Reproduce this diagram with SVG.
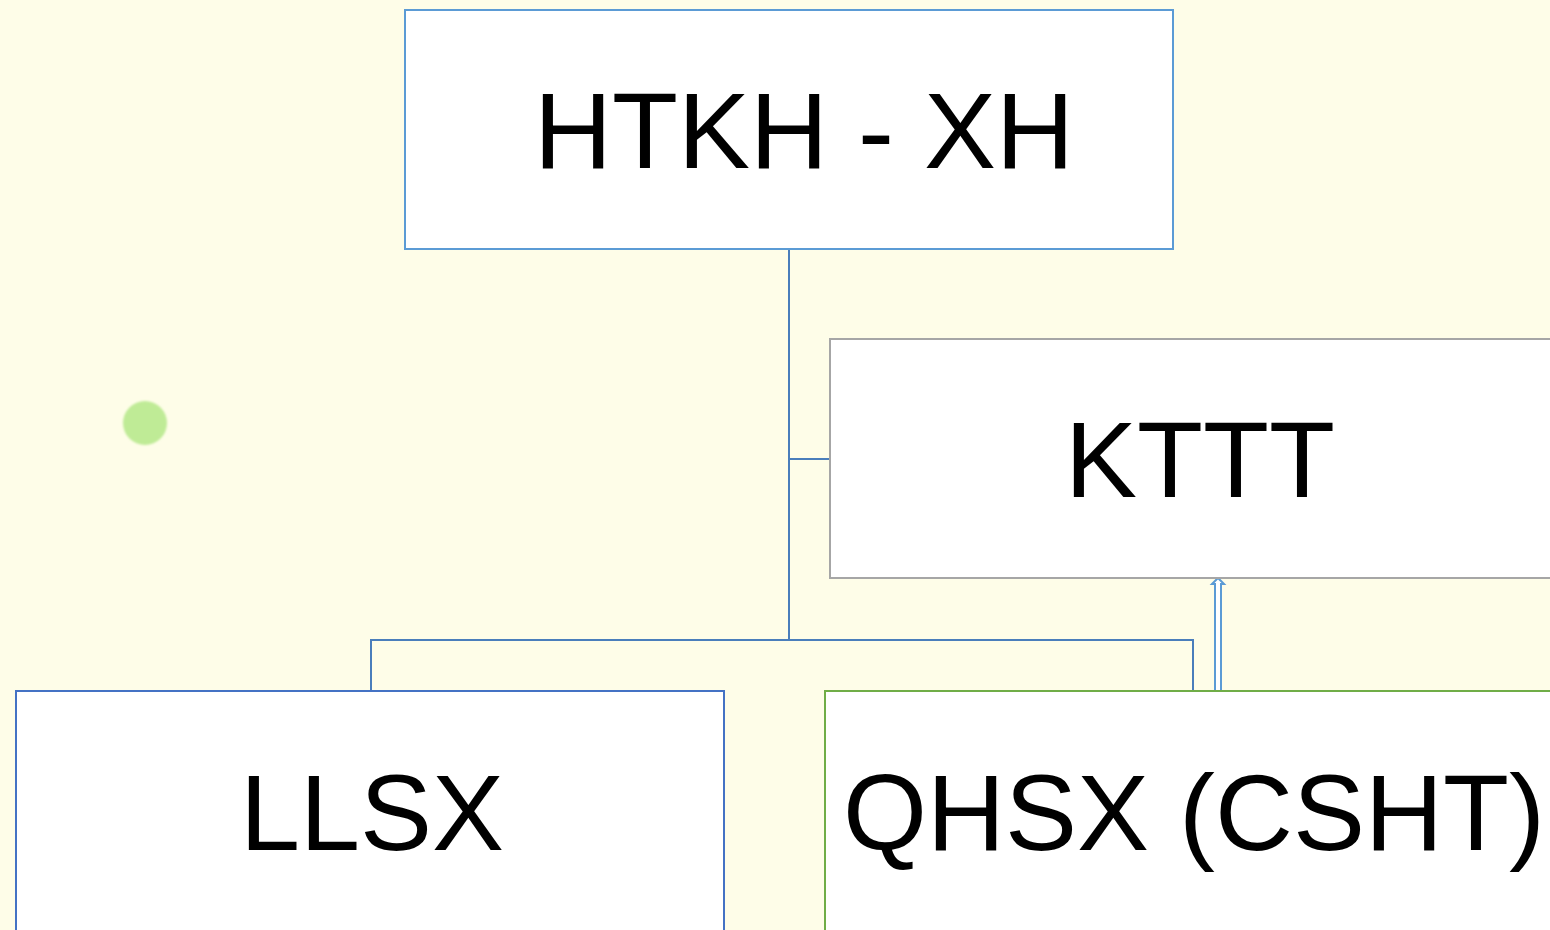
<svg xmlns="http://www.w3.org/2000/svg" width="1550" height="930" viewBox="0 0 1550 930">
<style>
.box{fill:#FFFFFF;stroke-width:2}
.t{font-family:"Liberation Sans",Arial,sans-serif;font-size:108px;fill:#000000;text-anchor:middle}
.c{fill:none;stroke:#4A7EBB;stroke-width:2}
</style>
<defs>
<filter id="blur" x="-50%" y="-50%" width="200%" height="200%"><feGaussianBlur stdDeviation="1"/></filter>
</defs>
<rect width="1550" height="930" fill="#FEFDE8"/>
<circle cx="145" cy="423" r="22" fill="#BFEB96" filter="url(#blur)"/>
<g id="connectors">
<polyline class="c" points="789,249 789,640"/>
<polyline class="c" points="789,459 830,459"/>
<polyline class="c" points="371,691 371,640 1193,640 1193,691"/>
<path d="M1215,691 L1215,584 L1212,584 L1218,578 L1224,584 L1221,584 L1221,691 Z" fill="#FFFFFF" stroke="#5B9BD5" stroke-width="2" stroke-linejoin="miter"/>
</g>
<g id="htkh">
<rect class="box" x="405" y="10" width="768" height="239" stroke="#5B9BD5"/>
<text class="t" x="804" y="168">HTKH - XH</text>
</g>
<g id="kttt">
<rect class="box" x="830" y="339" width="730" height="239" stroke="#A6A6A6"/>
<text class="t" x="1200" y="497">KTTT</text>
</g>
<g id="llsx">
<rect class="box" x="16" y="691" width="708" height="250" stroke="#4472C4"/>
<text class="t" x="372" y="850">LLSX</text>
</g>
<g id="qhsx">
<rect class="box" x="825" y="691" width="735" height="250" stroke="#70AD47"/>
<text class="t" x="1194" y="850">QHSX (CSHT)</text>
</g>
</svg>
